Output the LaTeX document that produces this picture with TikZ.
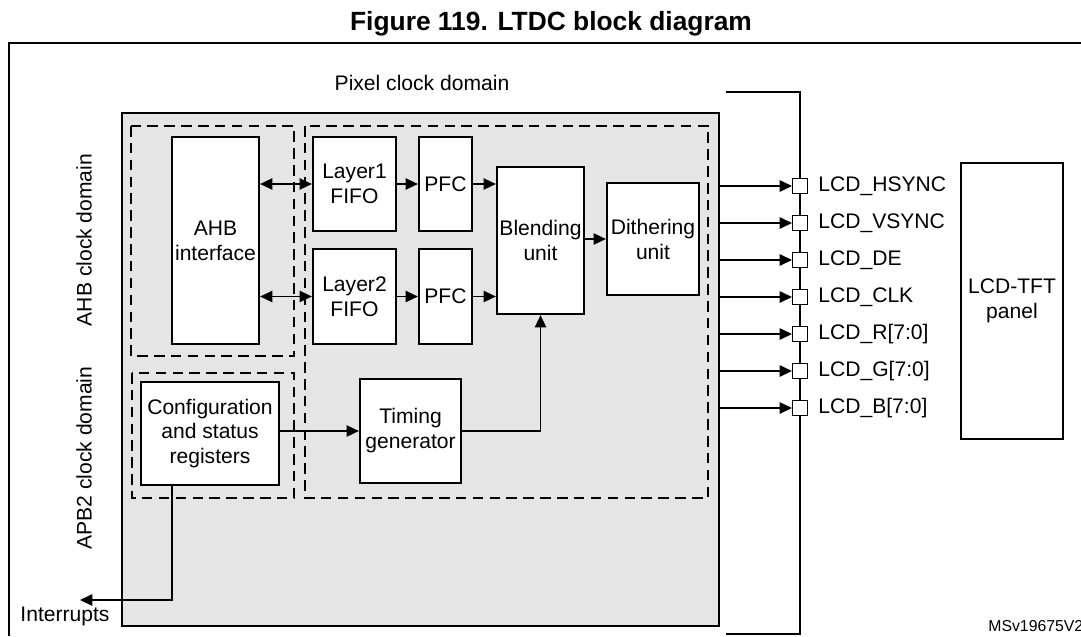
\documentclass[tikz,border=0pt]{standalone}
\usepackage{fontspec}
\setmainfont{Liberation Sans}
\usetikzlibrary{arrows.meta,positioning}
\definecolor{ltdcgray}{RGB}{229,229,229}
\begin{document}
\begin{tikzpicture}[x=0.02cm,y=-0.02cm,
		block/.style={draw,line width=1.3pt,fill=white,align=center,inner sep=1pt,font=\fontsize{12}{14.2}\selectfont},
		sig/.style={line width=0.75pt,-{Triangle[length=7pt,width=6.5pt]}},
		dsig/.style={line width=0.75pt,{Triangle[length=7pt,width=6.5pt]}-{Triangle[length=7pt,width=6.5pt]}},
		dom/.style={line width=0.95pt,dash pattern=on 6pt off 3.6pt},
		padbox/.style={draw,line width=0.6pt,fill=white,minimum size=0.3cm,inner sep=0pt},
		txt/.style={font=\fontsize{12}{14.2}\selectfont,inner sep=0pt}]
		\useasboundingbox (0,0) rectangle (1081,636);
		%title and outer frame
		\node[font=\fontsize{15}{18}\selectfont\bfseries] (title) at (551,24) {Figure 119. LTDC block diagram};
		\draw[line width=0.7pt] (9,636) -- (9,43) -- (1081,43);
		%LTDC block and clock domains
		\node[draw,line width=1.3pt,fill=ltdcgray,minimum width=11.94cm,minimum height=10.26cm] (ltdc) at (420.5,369.5) {};
		\draw[dom] (131,126) rectangle (294,356);
		\draw[dom] (132,373) rectangle (294,498);
		\draw[dom] (305,126) rectangle (708,498);
		\node[txt] (pixdom) at (422,83) {Pixel clock domain};
		\node[txt,rotate=90] (ahbdom) at (84,240) {AHB clock domain};
		\node[txt,rotate=90] (apbdom) at (84,458) {APB2 clock domain};
		%blocks
		\node[block,minimum width=1.74cm,minimum height=4.14cm] (ahb) at (215.5,240.5) {AHB\\interface};
		\node[block,minimum width=1.66cm,minimum height=1.88cm] (fifoA) at (354.5,184) {Layer1\\FIFO};
		\node[block,minimum width=1.66cm,minimum height=1.9cm] (fifoB) at (354.5,296.5) {Layer2\\FIFO};
		\node[block,minimum width=1.06cm,minimum height=1.88cm] (pfcA) at (445.5,184) {PFC};
		\node[block,minimum width=1.06cm,minimum height=1.9cm] (pfcB) at (445.5,296.5) {PFC};
		\node[block,minimum width=1.74cm,minimum height=2.94cm] (blend) at (540.5,240.5) {Blending\\unit};
		\node[block,minimum width=1.84cm,minimum height=2.24cm] (dither) at (653,239) {Dithering\\unit};
		\node[block,minimum width=2.76cm,minimum height=2.06cm] (conf) at (210,433.5) {Configuration\\and status\\registers};
		\node[block,minimum width=2.02cm,minimum height=2.08cm] (timing) at (410.5,431) {Timing\\generator};
		\node[block,minimum width=2.04cm,minimum height=5.52cm] (panel) at (1012,301) {LCD-TFT\\panel};
		%data path
		\draw[dsig] (ahb.east |- fifoA) -- (fifoA.west);
		\draw[dsig] (ahb.east |- fifoB) -- (fifoB.west);
		\draw[sig] (fifoA) -- (pfcA);
		\draw[sig] (fifoB) -- (pfcB);
		\draw[sig] (pfcA) -- (blend.west |- pfcA);
		\draw[sig] (pfcB) -- (blend.west |- pfcB);
		\draw[sig] (blend.east |- dither) -- (dither.west);
		\draw[sig] (conf.east |- timing) -- (timing.west);
		\draw[sig] (timing.east) -| (blend.south);
		%interrupts
		\coordinate (irq) at (80,600);
		\draw[sig] ([xshift=-0.76cm]conf.south) |- (irq);
		\node[txt] (irqtxt) at (65,616) {Interrupts};
		%pins
		\draw[line width=1.1pt] (726,92) -- (800,92) -- (800,634) -- (726,634);
		\foreach \signame/\yy [count=\i] in {LCD\_HSYNC/186,LCD\_VSYNC/223,LCD\_DE/260,LCD\_CLK/297,{LCD\_R[7:0]}/334,{LCD\_G[7:0]}/371,{LCD\_B[7:0]}/408}{
			\node[padbox] (pad\i) at (800,\yy) {};
			\node[txt,right=0.2cm of pad\i] (padtxt\i) {\signame};
			\draw[sig] (ltdc.east |- pad\i) -- (pad\i.west);
		}
		\node[font=\fontsize{9}{11}\selectfont,anchor=west,inner sep=0pt] (msv) at (988,626) {MSv19675V2};
	\end{tikzpicture}
\end{document}
